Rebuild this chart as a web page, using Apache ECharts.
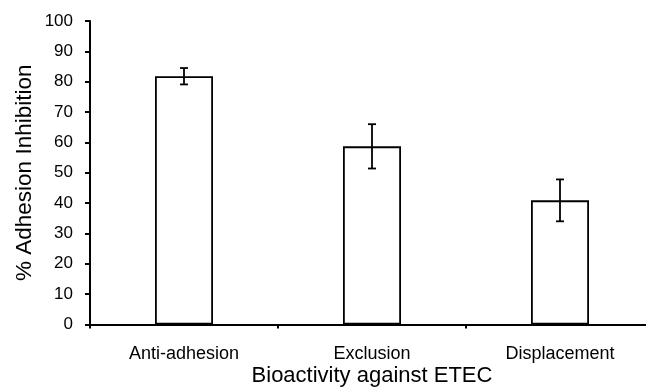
<!DOCTYPE html>
<html>
<head>
<meta charset="utf-8">
<script src="https://cdn.jsdelivr.net/npm/echarts@6/dist/echarts.min.js"></script>
<style>html,body{margin:0;padding:0;background:#fff;}#c{width:646px;height:387px;}</style>
</head>
<body>
<div id="c"></div>
<script>
var categories = ["Anti-adhesion", "Exclusion", "Displacement"];
var means = [81.8, 58.7, 40.9];
var errors = [2.7, 7.3, 6.9];
var yTicks = [0, 10, 20, 30, 40, 50, 60, 70, 80, 90, 100];

var chart = echarts.init(document.getElementById('c'), null, {renderer: 'canvas'});
var FONT = '"Liberation Sans", Arial, sans-serif';
var errData = categories.map(function (c, i) { return [i, means[i] - errors[i], means[i] + errors[i]]; });

chart.setOption({
  animation: false,
  backgroundColor: '#fff',
  grid: {left: 90, top: 21, width: 564, height: 303.5, containLabel: false, outerBoundsMode: 'none'},
  xAxis: {
    type: 'category',
    data: categories,
    name: 'Bioactivity against ETEC',
    nameLocation: 'middle',
    nameMoveOverlap: false,
    nameGap: 40,
    nameTextStyle: {fontFamily: FONT, fontSize: 22, color: '#000'},
    axisLine: {lineStyle: {color: '#000', width: 2}},
    axisTick: {show: true, length: 4, lineStyle: {color: '#000', width: 2}},
    axisLabel: {fontFamily: FONT, fontSize: 18, color: '#000', margin: 21}
  },
  yAxis: {
    type: 'value',
    min: yTicks[0],
    max: yTicks[yTicks.length - 1],
    interval: 10,
    name: '% Adhesion Inhibition',
    nameLocation: 'middle',
    nameMoveOverlap: false,
    nameGap: 54,
    nameTextStyle: {fontFamily: FONT, fontSize: 22.5, color: '#000'},
    axisLine: {show: true, lineStyle: {color: '#000', width: 2}},
    axisTick: {show: true, length: 5, lineStyle: {color: '#000', width: 2}},
    axisLabel: {fontFamily: FONT, fontSize: 17, color: '#000', margin: 17},
    splitLine: {show: false}
  },
  series: [
    {
      type: 'bar',
      data: means,
      barWidth: 58,
      itemStyle: {color: '#fff', borderColor: '#000', borderWidth: 1.8},
      z: 2
    },
    {
      type: 'custom',
      data: errData,
      z: 5,
      renderItem: function (params, api) {
        var x = api.value(0);
        var lo = api.coord([x, api.value(1)]);
        var hi = api.coord([x, api.value(2)]);
        var w = 4;
        var st = {stroke: '#000', lineWidth: 1.8};
        return {
          type: 'group',
          children: [
            {type: 'line', shape: {x1: lo[0], y1: lo[1], x2: hi[0], y2: hi[1]}, style: st},
            {type: 'line', shape: {x1: lo[0] - w, y1: lo[1], x2: lo[0] + w, y2: lo[1]}, style: st},
            {type: 'line', shape: {x1: hi[0] - w, y1: hi[1], x2: hi[0] + w, y2: hi[1]}, style: st}
          ]
        };
      }
    }
  ]
});
</script>
</body>
</html>
